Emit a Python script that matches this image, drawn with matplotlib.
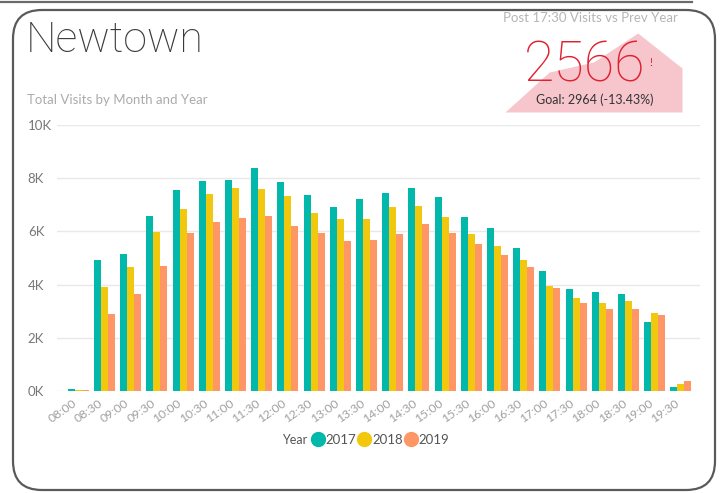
import matplotlib.pyplot as plt
import numpy as np
from matplotlib.patches import FancyBboxPatch
from matplotlib.lines import Line2D
import matplotlib.transforms as mtransforms

# data
times = ["08:00", "08:30", "09:00", "09:30", "10:00", "10:30", "11:00", "11:30",
         "12:00", "12:30", "13:00", "13:30", "14:00", "14:30", "15:00", "15:30",
         "16:00", "16:30", "17:00", "17:30", "18:00", "18:30", "19:00", "19:30"]
years = ["2017", "2018", "2019"]
visits_2017 = [60, 4930, 5140, 6580, 7560, 7890, 7940, 8390, 7860, 7360, 6930, 7200,
               7440, 7630, 7280, 6550, 6130, 5380, 4510, 3850, 3730, 3660, 2600, 150]
visits_2018 = [40, 3910, 4650, 5960, 6840, 7400, 7630, 7590, 7340, 6710, 6460, 6480,
               6910, 6950, 6560, 5910, 5440, 4910, 3960, 3480, 3310, 3390, 2940, 260]
visits_2019 = [40, 2900, 3630, 4690, 5930, 6340, 6510, 6590, 6210, 5940, 5650, 5690,
               5910, 6280, 5930, 5510, 5130, 4680, 3890, 3290, 3090, 3080, 2840, 390]
yticks = [0, 2000, 4000, 6000, 8000, 10000]
ytick_labels = ["0K", "2K", "4K", "6K", "8K", "10K"]

kpi_value = "2566"
kpi_goal = "Goal: 2964 (-13.43%)"
kpi_trend = [0, 40, 50, 79, 44]   # background sparkline of the card

colors = ["#01B8AA", "#F2C80F", "#FE9666"]
font = ["Lato", "DejaVu Sans"]
light = ["Roboto", "Lato", "DejaVu Sans"]
W, H = 722, 493


def fx(x):
    return x / W


def fy(y):
    return 1 - y / H


fig = plt.figure(figsize=(7.22, 4.93), dpi=100)
fig.patch.set_facecolor("white")

# card outline and the edge of the card above
card = FancyBboxPatch((fx(13), fy(490)), fx(715) - fx(13), fy(10) - fy(490),
                      boxstyle="round,pad=0,rounding_size=0.04",
                      transform=fig.transFigure, facecolor="none",
                      edgecolor="#5a5a5a", linewidth=1.6,
                      mutation_aspect=W / H)
fig.patches.append(card)
fig.add_artist(Line2D([0, fx(692)], [fy(2), fy(2)], color="#6a6a6a", lw=1.6,
                      transform=fig.transFigure))

# KPI sparkline background
kax = fig.add_axes([fx(505), fy(112), fx(682) - fx(505), fy(33) - fy(112)])
kx = np.arange(len(kpi_trend))
kax.fill_between(kx, 0, kpi_trend, color="#F7C6CC", lw=0)
kax.set_xlim(0, len(kpi_trend) - 1)
kax.set_ylim(0, max(kpi_trend))
kax.axis("off")

# main bar chart
ax = fig.add_axes([fx(57), fy(391), fx(700) - fx(57), fy(125) - fy(391)])
ax.patch.set_alpha(0)
x = np.arange(len(times))
bw = 0.267
series = [visits_2017, visits_2018, visits_2019]
for i, (vals, c) in enumerate(zip(series, colors)):
    ax.bar(x + (i - 1) * bw, vals, width=bw, color=c, linewidth=0, zorder=3)

ax.set_xlim(-0.81, 23.73)
ax.set_ylim(0, 10000)
ax.set_yticks(yticks)
ax.set_yticklabels(ytick_labels, fontsize=9.5, color="#777777", family=font)
for lbl in ax.get_yticklabels():
    lbl.set_horizontalalignment("left")
ax.tick_params(axis="y", length=0, pad=21)
ax.grid(axis="y", color="#e8e8e8", lw=1, zorder=0)
ax.set_xticks(x)
ax.set_xticklabels(times, rotation=35, ha="right", rotation_mode="anchor",
                   fontsize=8.8, color="#a0a0a0", family=font)
ax.tick_params(axis="x", length=0, pad=5)
offset = mtransforms.ScaledTranslation(-6 / 100, 0, fig.dpi_scale_trans)
for lbl in ax.get_xticklabels():
    lbl.set_transform(lbl.get_transform() + offset)
for s in ax.spines.values():
    s.set_visible(False)

# texts
fig.text(fx(26), fy(41), "Newtown", fontsize=31, fontweight="light",
         color="#3a3a3a", family=light, va="center", ha="left")
fig.text(fx(27), fy(100), "Total Visits by Month and Year", fontsize=9.5,
         color="#ababab", family=font, va="center", ha="left")
fig.text(fx(590), fy(18), "Post 17:30 Visits vs Prev Year", fontsize=9.5,
         color="#b5b5b5", family=font, va="center", ha="center")
fig.text(fx(585), fy(66), kpi_value, fontsize=40, fontweight="light",
         color="#E0202F", family=light, va="center", ha="center")
fig.text(fx(651), fy(62), "!", fontsize=8, color="#E0202F", family=font,
         va="center", ha="center")
fig.text(fx(595), fy(100), kpi_goal, fontsize=9, color="#333333", family=font,
         va="center", ha="center")

# legend
fig.text(fx(282), fy(440), "Year", fontsize=9, color="#555555", family=font,
         va="center", ha="left")
handles = [Line2D([], [], marker="o", ls="none", markersize=10,
                  markerfacecolor=c, markeredgecolor=c) for c in colors]
fig.legend(handles, years, loc="center", bbox_to_anchor=(fx(381), fy(440)),
           ncol=3, frameon=False, handlelength=0.8, handletextpad=0.2,
           columnspacing=0.2, borderpad=0,
           prop={"family": font, "size": 9.5}, labelcolor="#555555")

fig.savefig("out.png", dpi=100)
